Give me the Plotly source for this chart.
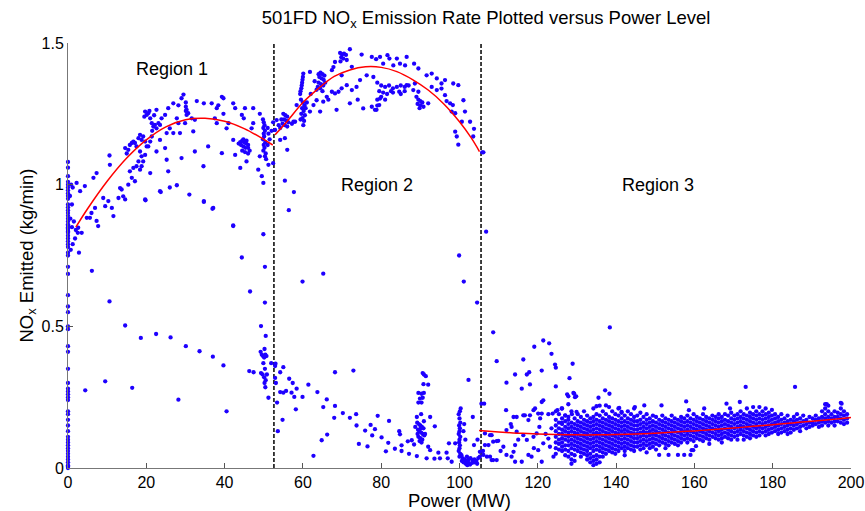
import plotly.graph_objects as go

# ---------------- data ----------------
# Region 1 : column of readings at zero power
r1_zero_y = [1.08, 1.06, 1.03, 1.01, 1.00, 0.99, 0.98, 0.97, 0.96, 0.95, 0.93, 0.92, 0.91,
             0.90, 0.89, 0.88, 0.87, 0.86, 0.855, 0.85, 0.845, 0.84, 0.835, 0.83, 0.82,
             0.81, 0.80, 0.79, 0.78, 0.76, 0.75, 0.71, 0.685, 0.61, 0.57, 0.55, 0.50,
             0.49, 0.43, 0.41, 0.35, 0.30, 0.28, 0.27, 0.26, 0.25, 0.24, 0.20, 0.19, 0.17,
             0.15, 0.13, 0.11, 0.10, 0.09, 0.08, 0.07, 0.06, 0.05, 0.04, 0.03, 0.02, 0.01,
             0.005, 0.0]

r1_pts = [
    (0.8, 1.0), (1.2, 0.99), (0.5, 0.96), (1.0, 0.93), (0.6, 0.88), (1.5, 0.87), (1.0, 0.85),
    (2.0, 0.84), (2.5, 0.83), (1.8, 0.81), (1.2, 0.79), (0.7, 0.77), (2.8, 0.76), (2.2, 1.006),
    (4.3, 0.995), (3.1, 0.977), (2.6, 0.848), (3.5, 0.83), (4.8, 0.883), (5.6, 0.883),
    (6.0, 0.90), (6.9, 0.918), (7.3, 0.872), (7.7, 0.854), (6.5, 1.024), (7.3, 1.041),
    (9.0, 0.953), (9.5, 0.924), (10.3, 0.942), (10.7, 1.07), (10.6, 1.103), (11.6, 0.889),
    (11.2, 0.918), (12.9, 0.953), (13.3, 0.988), (13.7, 0.983), (14.1, 0.959), (14.6, 0.948),
    (15.4, 1.0), (15.8, 1.047), (16.3, 1.024), (16.7, 1.059), (17.1, 1.012), (14.6, 1.129),
    (15.0, 1.11), (15.4, 1.123), (15.8, 1.14), (16.3, 1.147), (16.7, 1.152), (17.1, 1.147),
    (17.5, 1.135), (18.0, 1.164), (18.4, 1.176), (18.8, 1.158), (19.2, 1.17), (19.7, 1.152),
    (20.1, 1.135), (18.4, 1.117), (18.8, 1.10), (19.2, 1.082), (19.7, 1.105), (18.0, 1.082),
    (17.5, 1.065), (18.4, 1.053), (18.8, 1.065), (21.0, 1.041), (19.7, 0.948), (20.5, 1.135),
    (21.0, 1.152), (21.4, 1.17), (20.1, 1.246), (19.7, 1.258), (20.5, 1.252), (21.0, 1.234),
    (21.4, 1.217), (22.2, 1.211), (22.6, 1.199), (21.8, 1.205), (23.1, 1.217), (23.5, 1.211),
    (23.9, 1.234), (24.8, 1.246), (22.6, 1.264), (25.2, 1.182), (26.0, 1.199), (26.9, 1.182),
    (23.5, 1.158), (22.6, 1.117), (24.8, 1.129), (25.2, 1.088), (25.6, 1.047), (23.5, 0.977),
    (27.8, 1.234), (28.2, 1.217), (28.6, 1.182), (29.9, 1.217), (30.3, 1.246), (30.7, 1.252),
    (30.3, 1.264), (31.6, 1.234), (32.0, 1.188), (32.4, 1.229), (29.0, 1.094), (27.8, 0.998),
    (31.0, 0.965), (32.4, 1.117), (34.6, 1.065), (34.7, 0.942), (35.8, 1.135), (37.1, 0.918),
    (37.5, 1.234), (38.0, 1.217), (39.3, 1.111), (40.5, 1.199), (41.0, 1.217), (42.2, 1.158),
    (42.7, 1.105), (42.2, 0.854), (44.0, 1.059), (44.4, 0.743), (45.6, 1.082), (44.4, 1.246),
    (44.9, 1.234), (46.9, 1.199), (47.3, 1.217), (48.6, 1.053), (49.0, 1.10), (49.5, 1.03),
    (49.9, 1.006), (49.9, 0.825), (51.2, 1.07), (52.4, 1.076), (29.5, 1.318), (29.0, 1.305),
    (26.9, 1.287), (28.2, 1.28), (25.6, 1.27), (30.1, 1.29), (30.1, 1.275), (30.1, 1.26),
    (32.9, 1.295), (34.7, 1.287), (36.7, 1.287), (38.4, 1.28), (39.3, 1.31), (39.7, 1.305),
    (38.0, 1.27), (39.7, 1.25), (42.2, 1.287), (42.7, 1.27), (45.2, 1.27), (47.3, 1.27),
    (49.0, 1.25), (52.4, 1.22), (19.5, 1.24), (20.8, 1.26), (22.0, 1.245), (21.5, 1.19),
    (44.0, 1.15), (44.5, 1.155), (45.0, 1.15), (45.5, 1.145), (46.0, 1.14), (44.2, 1.14),
    (44.8, 1.135), (45.3, 1.13), (46.0, 1.13), (44.5, 1.12), (45.2, 1.115), (46.0, 1.11),
    (45.6, 1.155), (44.8, 1.16), (43.6, 1.145), (46.4, 1.12), (49.8, 1.23), (50.0, 1.22),
    (50.2, 1.21), (49.9, 1.20), (50.3, 1.19), (50.0, 1.18), (50.1, 1.17), (49.8, 1.16),
    (50.4, 1.15), (50.0, 1.14), (50.2, 1.13), (49.9, 1.12), (50.5, 1.11), (50.3, 1.10),
    (50.6, 1.09), (51.0, 1.20), (51.2, 1.18), (51.5, 1.16), (51.0, 1.14), (52.0, 1.19),
    (4.4, 0.274), (9.5, 0.306), (10.6, 0.588), (14.6, 0.503), (16.4, 0.283), (18.6, 0.459),
    (22.5, 0.473), (26.2, 0.461), (28.2, 0.241), (30.1, 0.43), (33.6, 0.412), (37.0, 0.393),
    (39.7, 0.362), (40.5, 0.20), (46.5, 0.623), (46.3, 0.342), (47.4, 0.338), (49.3, 0.501),
    (50.3, 0.584), (50.5, 0.466), (49.2, 0.41), (49.5, 0.40), (49.8, 0.395), (50.1, 0.39),
    (50.4, 0.40), (50.7, 0.395), (50.2, 0.42), (49.9, 0.37), (50.3, 0.35), (49.3, 0.335),
    (49.7, 0.33), (50.1, 0.32), (50.5, 0.31), (50.8, 0.33), (50.4, 0.285), (50.2, 0.30),
    (51.2, 0.248), (51.9, 0.37), (42.2, 0.856), (50.3, 0.71), (34.7, 0.939), (36.9, 0.915),
    (6.1, 0.696), (26.0, 0.99), (19.8, 0.945), (23.7, 0.974),
]

# Region 2
r2_pts = [
    (72.0, 1.478), (69.5, 1.465), (70.0, 1.46), (70.5, 1.462), (71.0, 1.458), (69.8, 1.45),
    (70.3, 1.445), (71.2, 1.44), (69.6, 1.435), (68.2, 1.433), (67.8, 1.415), (67.4, 1.404),
    (69.9, 1.386), (60.1, 1.392), (60.0, 1.38), (59.9, 1.37), (59.8, 1.36), (59.7, 1.35),
    (59.6, 1.34), (59.4, 1.33), (59.3, 1.32), (61.8, 1.398), (64.0, 1.39), (64.5, 1.395),
    (65.0, 1.39), (65.5, 1.385), (64.2, 1.38), (64.8, 1.375), (65.3, 1.37), (64.0, 1.36),
    (64.6, 1.355), (65.2, 1.35), (63.8, 1.345), (64.4, 1.34), (65.7, 1.36), (63.5, 1.335),
    (65.0, 1.33), (59.5, 1.30), (60.0, 1.29), (60.4, 1.28), (59.8, 1.27), (60.2, 1.26),
    (59.6, 1.25), (60.5, 1.245), (59.9, 1.235), (60.3, 1.225), (59.4, 1.23), (60.7, 1.27),
    (61.0, 1.29), (58.4, 1.281), (58.0, 1.222), (60.1, 1.21), (55.0, 1.25), (55.5, 1.245),
    (56.0, 1.24), (55.2, 1.23), (55.8, 1.225), (56.3, 1.22), (55.4, 1.21), (56.0, 1.205),
    (54.5, 1.23), (54.8, 1.215), (53.3, 1.228), (53.8, 1.21), (54.2, 1.20), (52.9, 1.193),
    (54.2, 1.158), (55.4, 1.164), (56.0, 1.123), (57.6, 1.222), (57.2, 1.215), (61.8, 1.258),
    (64.4, 1.258), (62.7, 1.281), (63.5, 1.298), (65.2, 1.293), (66.1, 1.31), (67.4, 1.328),
    (68.2, 1.322), (69.1, 1.328), (69.9, 1.34), (71.2, 1.351), (72.5, 1.334), (73.7, 1.345),
    (74.6, 1.369), (76.3, 1.386), (78.0, 1.38), (68.6, 1.264), (72.0, 1.287), (75.4, 1.269),
    (77.6, 1.275), (79.0, 1.279), (78.4, 1.264), (72.5, 1.416), (75.0, 1.459), (77.6, 1.451),
    (78.7, 1.443), (79.7, 1.451), (80.5, 1.427), (81.6, 1.457), (82.1, 1.445), (83.1, 1.421),
    (84.0, 1.445), (84.8, 1.427), (86.5, 1.451), (86.1, 1.421), (88.4, 1.427), (89.5, 1.41),
    (91.6, 1.386), (92.9, 1.392), (94.2, 1.375), (95.4, 1.357), (96.3, 1.369), (98.4, 1.357),
    (99.7, 1.351), (92.9, 1.345), (94.2, 1.334), (95.4, 1.339), (96.3, 1.316), (96.7, 1.295),
    (97.6, 1.287), (98.3, 1.281), (98.0, 1.258), (98.9, 1.252), (101.0, 1.298), (101.4, 1.258),
    (100.6, 1.222), (102.7, 1.222), (103.7, 1.197), (103.5, 1.17), (98.9, 1.187), (99.3, 1.17),
    (99.7, 1.141), (105.8, 1.114), (79.0, 1.36), (80.0, 1.35), (81.0, 1.345), (82.0, 1.35),
    (83.0, 1.34), (79.5, 1.33), (80.5, 1.325), (81.5, 1.32), (82.5, 1.33), (80.0, 1.31),
    (79.0, 1.30), (81.0, 1.30), (84.0, 1.345), (85.0, 1.35), (86.0, 1.345), (87.0, 1.35),
    (86.0, 1.33), (85.0, 1.32), (83.0, 1.325), (79.7, 1.304), (79.5, 1.281), (78.8, 1.264),
    (84.6, 1.328), (86.5, 1.351), (88.2, 1.334), (88.6, 1.357), (89.5, 1.328), (89.0, 1.31),
    (89.5, 1.30), (90.0, 1.295), (90.5, 1.29), (89.3, 1.285), (90.0, 1.28), (90.8, 1.275),
    (89.8, 1.27), (92.0, 1.287), (66.5, 1.30), (62.0, 1.32), (63.0, 1.365), (74.0, 1.30),
    (55.4, 1.014), (57.7, 0.974), (56.4, 0.91), (65.2, 0.686), (99.9, 0.75), (59.9, 0.658),
    (101.1, 0.658), (104.5, 0.584), (102.3, 0.311),
    (53.0, 0.368), (52.9, 0.36), (54.2, 0.338), (55.0, 0.356), (52.9, 0.318), (53.1, 0.30),
    (56.5, 0.315), (57.4, 0.30), (58.4, 0.28), (54.2, 0.268), (55.0, 0.266), (55.7, 0.272),
    (57.1, 0.266), (57.8, 0.251), (59.9, 0.251), (61.4, 0.294), (63.7, 0.268), (66.1, 0.242),
    (65.2, 0.215), (58.2, 0.207), (53.4, 0.231), (68.2, 0.338), (72.9, 0.344), (68.2, 0.219),
    (70.2, 0.194), (68.0, 0.177), (72.0, 0.177), (73.6, 0.19), (73.7, 0.15), (75.9, 0.132),
    (77.3, 0.152), (78.4, 0.137), (79.1, 0.184), (77.7, 0.115), (80.1, 0.108), (82.0, 0.166),
    (84.6, 0.13), (84.8, 0.119), (81.8, 0.089), (74.3, 0.085), (76.5, 0.076), (64.8, 0.098),
    (66.2, 0.118), (81.2, 0.059), (83.5, 0.068), (85.2, 0.06), (85.2, 0.08), (87.1, 0.05),
    (86.8, 0.094), (87.8, 0.098), (88.4, 0.083), (89.1, 0.042), (62.7, 0.043), (91.6, 0.034),
    (92.0, 0.075), (92.5, 0.063), (93.6, 0.033), (94.6, 0.054), (95.0, 0.034), (96.7, 0.054),
    (97.0, 0.034), (98.0, 0.022), (98.9, 0.087), (97.3, 0.087), (103.4, 0.18), (101.2, 0.155),
    (103.7, 0.081), (104.6, 0.10), (105.2, 0.057), (53.6, 0.13), (54.8, 0.17),
    (90.6, 0.335), (90.9, 0.33), (91.4, 0.324), (92.0, 0.294), (90.8, 0.296), (89.5, 0.265),
    (90.3, 0.262), (90.9, 0.265), (90.6, 0.248), (89.9, 0.245), (89.5, 0.231), (90.3, 0.231),
    (89.1, 0.18), (90.2, 0.19), (92.5, 0.18), (93.7, 0.147), (89.2, 0.16), (89.6, 0.155),
    (90.0, 0.15), (90.4, 0.145), (90.8, 0.14), (89.4, 0.135), (89.8, 0.13), (90.2, 0.125),
    (90.6, 0.12), (91.0, 0.115), (89.5, 0.11), (90.0, 0.105), (90.5, 0.10), (89.8, 0.095),
    (90.3, 0.09), (91.2, 0.12), (88.7, 0.145), (90.9, 0.165), (89.3, 0.12), (90.1, 0.14),
    (100.3, 0.21), (100.1, 0.20), (99.8, 0.19), (100.0, 0.175), (100.2, 0.16), (99.9, 0.15),
    (100.1, 0.14), (100.0, 0.13), (99.8, 0.12), (100.2, 0.11), (100.0, 0.10), (99.9, 0.09),
    (100.1, 0.08), (100.0, 0.07), (99.8, 0.06), (100.2, 0.05), (100.0, 0.04), (100.5, 0.045),
    (101.0, 0.13), (101.5, 0.10), (100.8, 0.035), (101.3, 0.03), (101.8, 0.025), (102.3, 0.03),
    (102.8, 0.035), (103.3, 0.028), (103.8, 0.03), (104.3, 0.025), (104.8, 0.035), (101.0, 0.02),
    (101.6, 0.015), (102.2, 0.02), (102.7, 0.012), (103.2, 0.018), (103.8, 0.02), (104.5, 0.015),
    (105.2, 0.04), (101.9, 0.04), (100.6, 0.025), (102.0, 0.01),
]

# Region 3 : scattered readings outside the main band
r3_pts = [
    (106.8, 0.834), (106.1, 1.114), (106.3, 0.227), (105.6, 0.227),
    (108.6, 0.479), (109.5, 0.377), (112.0, 0.301), (114.2, 0.33), (115.9, 0.28), (116.3, 0.383),
    (117.2, 0.33), (118.0, 0.295), (119.1, 0.428), (121.4, 0.45), (122.9, 0.44), (123.5, 0.403),
    (121.0, 0.344), (124.4, 0.365), (124.6, 0.354), (124.6, 0.288), (128.1, 0.317), (128.9, 0.368),
    (127.5, 0.26), (129.3, 0.262), (129.8, 0.253), (138.4, 0.496), (137.2, 0.274), (138.3, 0.262),
    (135.5, 0.248), (135.0, 0.218), (137.4, 0.221), (140.8, 0.212), (144.8, 0.215), (141.4, 0.198),
    (147.2, 0.221), (151.6, 0.221), (157.9, 0.235), (158.6, 0.204), (162.5, 0.21), (168.2, 0.227),
    (169.1, 0.21), (173.1, 0.286), (171.6, 0.233), (185.7, 0.286), (193.8, 0.225), (197.6, 0.227),
    (111.9, 0.204), (113.1, 0.155), (113.8, 0.18), (114.6, 0.18), (116.3, 0.186), (116.7, 0.186),
    (117.6, 0.169), (118.0, 0.186), (118.9, 0.204), (119.3, 0.21), (120.1, 0.192), (120.6, 0.175),
    (121.0, 0.192), (120.4, 0.145), (119.7, 0.122), (117.8, 0.338), (121.0, 0.233), (121.4, 0.239),
    (122.7, 0.19), (123.8, 0.192), (125.0, 0.204), (126.1, 0.21), (127.0, 0.186), (127.8, 0.18),
    (128.7, 0.19), (129.9, 0.198), (127.8, 0.225), (127.8, 0.253), (129.5, 0.25), (129.1, 0.265),
    (126.1, 0.16), (106.5, 0.122), (107.8, 0.116), (108.6, 0.093), (109.5, 0.095), (106.5, 0.081),
    (107.4, 0.081), (106.1, 0.046), (107.0, 0.04), (107.8, 0.04), (108.6, 0.028), (109.5, 0.028),
    (108.2, 0.028), (111.2, 0.075), (112.0, 0.046), (113.3, 0.04), (114.2, 0.022), (115.9, 0.022),
    (117.6, 0.046), (118.4, 0.04), (120.1, 0.063), (121.0, 0.022), (114.2, 0.081), (113.8, 0.057),
    (108.2, 0.116), (109.9, 0.096), (112.0, 0.134), (113.3, 0.145), (114.6, 0.128), (116.3, 0.116),
    (117.2, 0.099), (118.9, 0.11), (121.4, 0.087), (122.7, 0.104), (124.0, 0.04), (123.1, 0.075),
    (106.0, 0.06), (110.5, 0.06), (115.0, 0.10), (119.0, 0.07), (122.0, 0.12), (123.5, 0.14),
    (160.4, 0.077), (159.3, 0.063), (159.7, 0.063),
]

# Region 3 : dense band, as columns (power, readings)
r3_band = [
    (124.6, [0.20, 0.17, 0.15, 0.13, 0.11, 0.09, 0.07, 0.05]),
    (125.4, [0.19, 0.16, 0.14, 0.12, 0.10, 0.085, 0.065]),
    (126.2, [0.21, 0.175, 0.155, 0.135, 0.12, 0.105, 0.09, 0.075, 0.06]),
    (127.0, [0.185, 0.165, 0.145, 0.13, 0.115, 0.10, 0.08, 0.065, 0.045]),
    (127.8, [0.17, 0.155, 0.14, 0.125, 0.11, 0.095, 0.08, 0.06, 0.04]),
    (128.6, [0.20, 0.16, 0.145, 0.13, 0.115, 0.10, 0.085, 0.07, 0.05, 0.03, 0.015]),
    (129.4, [0.175, 0.155, 0.14, 0.125, 0.11, 0.095, 0.08, 0.065, 0.045, 0.025]),
    (130.2, [0.19, 0.165, 0.15, 0.135, 0.12, 0.105, 0.09, 0.075, 0.06]),
    (131.0, [0.18, 0.16, 0.145, 0.13, 0.115, 0.10, 0.085, 0.07, 0.055, 0.04]),
    (131.8, [0.20, 0.17, 0.155, 0.14, 0.125, 0.11, 0.095, 0.08, 0.065, 0.05]),
    (132.6, [0.185, 0.165, 0.15, 0.135, 0.12, 0.105, 0.09, 0.075, 0.06, 0.045, 0.03]),
    (133.4, [0.175, 0.16, 0.145, 0.13, 0.115, 0.10, 0.085, 0.07, 0.05, 0.035, 0.02]),
    (134.2, [0.21, 0.18, 0.165, 0.15, 0.135, 0.12, 0.105, 0.09, 0.075, 0.06, 0.04, 0.025, 0.01]),
    (135.0, [0.19, 0.17, 0.155, 0.14, 0.125, 0.11, 0.095, 0.08, 0.065, 0.045, 0.03, 0.015]),
    (135.8, [0.22, 0.185, 0.165, 0.15, 0.135, 0.12, 0.105, 0.09, 0.075, 0.06, 0.04, 0.02]),
    (136.6, [0.20, 0.175, 0.16, 0.145, 0.13, 0.115, 0.10, 0.085, 0.07, 0.055, 0.04]),
    (137.4, [0.19, 0.17, 0.155, 0.14, 0.125, 0.11, 0.095, 0.08, 0.065, 0.05]),
    (138.2, [0.215, 0.18, 0.165, 0.15, 0.135, 0.12, 0.105, 0.09, 0.075, 0.06]),
    (139.0, [0.20, 0.175, 0.16, 0.145, 0.13, 0.115, 0.10, 0.085, 0.07, 0.055]),
    (139.8, [0.19, 0.17, 0.155, 0.14, 0.125, 0.11, 0.095, 0.08, 0.065, 0.05]),
    (140.6, [0.21, 0.185, 0.165, 0.15, 0.135, 0.12, 0.105, 0.09, 0.075, 0.06]),
    (141.4, [0.195, 0.175, 0.16, 0.145, 0.13, 0.115, 0.10, 0.085, 0.07]),
    (142.2, [0.185, 0.165, 0.15, 0.135, 0.12, 0.105, 0.09, 0.075, 0.06, 0.045]),
    (143.0, [0.20, 0.175, 0.16, 0.145, 0.13, 0.115, 0.10, 0.085, 0.07]),
    (143.8, [0.19, 0.17, 0.155, 0.14, 0.125, 0.11, 0.095, 0.08, 0.065]),
    (144.6, [0.21, 0.18, 0.165, 0.15, 0.135, 0.12, 0.105, 0.09, 0.075, 0.06]),
    (145.4, [0.185, 0.165, 0.15, 0.135, 0.12, 0.105, 0.09, 0.075]),
    (146.2, [0.195, 0.17, 0.155, 0.14, 0.125, 0.11, 0.095, 0.08, 0.065]),
    (147.0, [0.18, 0.16, 0.145, 0.13, 0.115, 0.10, 0.085, 0.07]),
    (147.8, [0.19, 0.17, 0.155, 0.14, 0.125, 0.11, 0.095, 0.08, 0.055]),
    (148.6, [0.175, 0.16, 0.145, 0.13, 0.115, 0.10, 0.085, 0.07]),
    (149.4, [0.185, 0.165, 0.15, 0.135, 0.12, 0.105, 0.09, 0.075]),
    (150.2, [0.18, 0.16, 0.145, 0.13, 0.115, 0.10, 0.085, 0.065]),
    (151.0, [0.17, 0.155, 0.14, 0.125, 0.11, 0.095, 0.08, 0.046]),
    (151.8, [0.185, 0.165, 0.15, 0.135, 0.12, 0.105, 0.09]),
    (152.6, [0.175, 0.16, 0.145, 0.13, 0.115, 0.10, 0.085, 0.07]),
    (153.4, [0.17, 0.155, 0.14, 0.125, 0.11, 0.095, 0.08, 0.046]),
    (154.2, [0.185, 0.165, 0.15, 0.135, 0.12, 0.105, 0.09]),
    (155.0, [0.175, 0.16, 0.145, 0.13, 0.115, 0.10, 0.085]),
    (155.8, [0.17, 0.155, 0.14, 0.125, 0.11, 0.095, 0.08, 0.046]),
    (156.6, [0.18, 0.165, 0.15, 0.135, 0.12, 0.105, 0.09]),
    (157.4, [0.175, 0.16, 0.145, 0.13, 0.115, 0.10, 0.046]),
    (158.2, [0.185, 0.165, 0.15, 0.135, 0.12, 0.105, 0.09]),
    (159.0, [0.175, 0.16, 0.145, 0.13, 0.115, 0.10, 0.046]),
    (159.8, [0.19, 0.17, 0.155, 0.14, 0.125, 0.11, 0.095]),
    (160.6, [0.18, 0.165, 0.15, 0.135, 0.12, 0.105]),
    (161.4, [0.175, 0.16, 0.145, 0.13, 0.115, 0.10]),
    (162.2, [0.19, 0.17, 0.155, 0.14, 0.125, 0.11, 0.095]),
    (163.0, [0.18, 0.165, 0.15, 0.135, 0.12, 0.105]),
    (163.8, [0.175, 0.16, 0.145, 0.13, 0.115, 0.10, 0.085]),
    (164.6, [0.185, 0.17, 0.155, 0.14, 0.125, 0.11]),
    (165.4, [0.18, 0.165, 0.15, 0.135, 0.12, 0.105]),
    (166.2, [0.19, 0.175, 0.16, 0.145, 0.13, 0.115, 0.10]),
    (167.0, [0.18, 0.165, 0.15, 0.135, 0.12, 0.105, 0.09]),
    (167.8, [0.19, 0.17, 0.155, 0.14, 0.125, 0.11]),
    (168.6, [0.185, 0.165, 0.15, 0.135, 0.12, 0.105]),
    (169.4, [0.195, 0.175, 0.16, 0.145, 0.13, 0.115, 0.10]),
    (170.2, [0.185, 0.17, 0.155, 0.14, 0.125, 0.11]),
    (171.0, [0.19, 0.175, 0.16, 0.145, 0.13, 0.115, 0.10]),
    (171.8, [0.20, 0.18, 0.165, 0.15, 0.135, 0.12]),
    (172.6, [0.19, 0.175, 0.16, 0.145, 0.13, 0.115, 0.10]),
    (173.4, [0.21, 0.185, 0.17, 0.155, 0.14, 0.125, 0.11]),
    (174.2, [0.195, 0.18, 0.165, 0.15, 0.135, 0.12, 0.105]),
    (175.0, [0.215, 0.19, 0.175, 0.16, 0.145, 0.13, 0.115]),
    (175.8, [0.20, 0.185, 0.17, 0.155, 0.14, 0.125, 0.11]),
    (176.6, [0.215, 0.19, 0.175, 0.16, 0.145, 0.13, 0.115]),
    (177.4, [0.20, 0.185, 0.17, 0.155, 0.14, 0.125]),
    (178.2, [0.21, 0.19, 0.175, 0.16, 0.145, 0.13, 0.115]),
    (179.0, [0.195, 0.18, 0.165, 0.15, 0.135, 0.12]),
    (179.8, [0.205, 0.185, 0.17, 0.155, 0.14, 0.125]),
    (180.6, [0.19, 0.175, 0.16, 0.145, 0.13]),
    (181.4, [0.18, 0.165, 0.15, 0.135, 0.12]),
    (182.2, [0.19, 0.17, 0.155, 0.14, 0.125]),
    (183.0, [0.175, 0.16, 0.145, 0.13]),
    (183.8, [0.185, 0.165, 0.15, 0.135, 0.12]),
    (184.6, [0.17, 0.155, 0.14, 0.125]),
    (185.4, [0.18, 0.165, 0.15, 0.135]),
    (186.2, [0.19, 0.17, 0.155, 0.14]),
    (187.0, [0.175, 0.16, 0.145, 0.13]),
    (187.8, [0.185, 0.165, 0.15]),
    (188.6, [0.17, 0.155, 0.14]),
    (189.4, [0.18, 0.16, 0.145]),
    (190.2, [0.175, 0.16, 0.15]),
    (191.0, [0.185, 0.17, 0.155]),
    (191.8, [0.175, 0.16, 0.145]),
    (192.6, [0.20, 0.18, 0.165, 0.15]),
    (193.4, [0.225, 0.21, 0.19, 0.175, 0.16]),
    (194.2, [0.22, 0.20, 0.18, 0.165, 0.15]),
    (195.0, [0.19, 0.175, 0.16]),
    (195.8, [0.20, 0.18, 0.165, 0.15]),
    (196.6, [0.195, 0.18, 0.165]),
    (197.4, [0.23, 0.21, 0.19, 0.175, 0.16]),
    (198.2, [0.20, 0.185, 0.17, 0.155]),
    (199.0, [0.19, 0.175, 0.16]),
]

# Fitted curves
fit1_x = [2, 5, 10, 15, 20, 25, 30, 35, 40, 45, 50, 52.3]
fit1_y = [0.85, 0.915, 1.012, 1.094, 1.158, 1.204, 1.229, 1.234, 1.224, 1.198, 1.16, 1.14]
fit2_x = [52.9, 56, 60, 64, 68, 72, 76, 80, 84, 88, 92, 96, 100, 103, 105.1]
fit2_y = [1.176, 1.224, 1.29, 1.34, 1.382, 1.405, 1.416, 1.414, 1.399, 1.371, 1.334, 1.285,
          1.222, 1.165, 1.117]
fit3_x = [105, 110, 115, 120, 125, 130, 135, 140, 145, 150, 155, 160, 165, 170, 175, 180,
          185, 190, 195, 200]
fit3_y = [0.132, 0.127, 0.123, 0.12, 0.118, 0.117, 0.117, 0.118, 0.12, 0.123, 0.127, 0.131,
          0.136, 0.141, 0.147, 0.153, 0.159, 0.165, 0.171, 0.178]

boundaries = [52.6, 105.5]
region_labels = ["Region 1", "Region 2", "Region 3"]
region_label_x = [26.6, 78.9, 150.7]
region_label_y = [1.41, 1.0, 1.0]

x_ticks = [0, 20, 40, 60, 80, 100, 120, 140, 160, 180, 200]
y_ticks = [0, 0.5, 1, 1.5]
y_tick_text = ["0", "0.5", "1", "1.5"]

# ---------------- assemble ----------------
all_x, all_y = [], []
all_x += [0.0] * len(r1_zero_y)
all_y += r1_zero_y
for grp in (r1_pts, r2_pts, r3_pts):
    for px, py in grp:
        all_x.append(px)
        all_y.append(py)
for px, ys in r3_band:
    for py in ys:
        all_x.append(px)
        all_y.append(py)

FONT = "Liberation Sans, Arial, sans-serif"
fig = go.Figure()

for bx in boundaries:
    fig.add_trace(go.Scatter(x=[bx, bx], y=[0, 1.5], mode="lines",
                             line=dict(color="black", width=1.5, dash="4px,2px"),
                             hoverinfo="skip", showlegend=False))

fig.add_trace(go.Scatter(x=all_x, y=all_y, mode="markers",
                         marker=dict(color="#1e00ff", size=4.3, line=dict(width=0)),
                         showlegend=False, cliponaxis=False))

for fx, fy in ((fit1_x, fit1_y), (fit2_x, fit2_y), (fit3_x, fit3_y)):
    fig.add_trace(go.Scatter(x=fx, y=fy, mode="lines",
                             line=dict(color="red", width=1.5, shape="spline"),
                             showlegend=False))

for t, lx, ly in zip(region_labels, region_label_x, region_label_y):
    fig.add_annotation(x=lx, y=ly, text=t, showarrow=False,
                       font=dict(family=FONT, size=18, color="black"))

fig.update_layout(
    width=865, height=511,
    margin=dict(l=68, r=14, t=43, b=43),
    paper_bgcolor="white", plot_bgcolor="white",
    font=dict(family=FONT, color="black"),
    title=dict(text="501FD NO<sub>x</sub> Emission Rate Plotted versus Power Level",
               x=0.534, xanchor="center", xref="paper", y=0.966, yref="container",
               yanchor="middle",
               font=dict(family=FONT, size=18.5, color="black")),
)
fig.update_xaxes(range=[0, 200], tickvals=x_ticks, ticks="inside", ticklen=5,
                 tickcolor="#555", showline=True, linecolor="#777", linewidth=1,
                 showgrid=False, zeroline=False, mirror=False, automargin=False,
                 tickfont=dict(family=FONT, size=16, color="black"),
                 title=dict(text="Power (MW)", font=dict(family=FONT, size=18.5, color="black"),
                            standoff=0))
fig.update_yaxes(range=[0, 1.5], tickvals=y_ticks, ticktext=y_tick_text, ticks="inside",
                 ticklen=5, tickcolor="#555", showline=True, linecolor="#777", linewidth=1,
                 showgrid=False, zeroline=False, mirror=False, automargin=False,
                 tickfont=dict(family=FONT, size=16, color="black"),
                 title=dict(text="NO<sub>x</sub> Emitted (kg/min)",
                            font=dict(family=FONT, size=18.5, color="black"), standoff=3))

fig.write_html("out.html", config={"displayModeBar": False},
               post_script="document.body.style.margin='0';document.body.style.padding='0';")
